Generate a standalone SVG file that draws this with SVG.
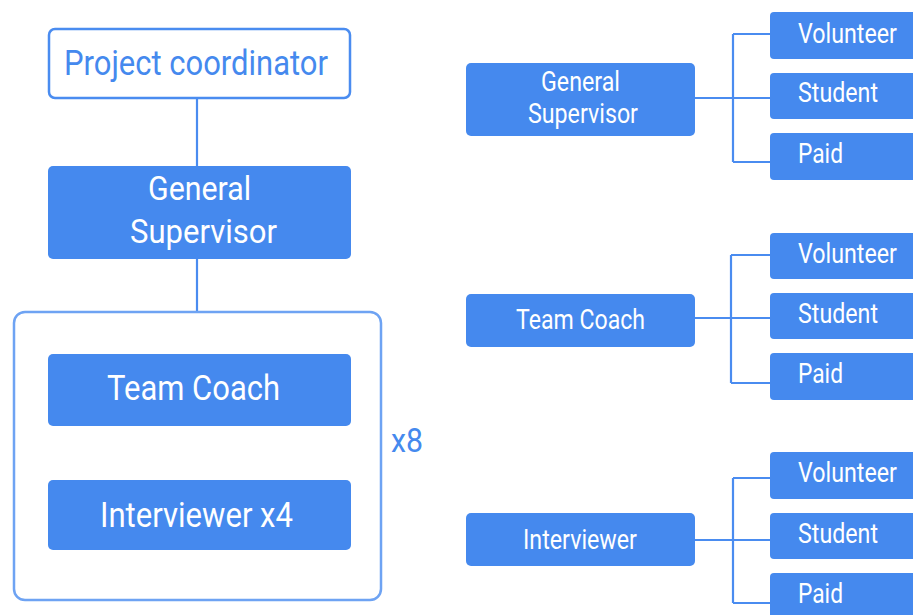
<svg xmlns="http://www.w3.org/2000/svg" width="913" height="615" viewBox="0 0 913 615">
  <style>
    .box { fill: #4589ee; }
    .outline { fill: #ffffff; stroke: #4a8cf0; stroke-width: 2.5; }
    .frame { fill: none; stroke: #6ea3f3; stroke-width: 2.5; }
    .wire { fill: none; stroke: #4a8cf0; stroke-width: 2.2; }
    text { font-family: Roboto, "Liberation Sans", sans-serif; }
    .lbl { fill: #ffffff; }
    .blue { fill: #4589ee; }
  </style>
  <rect width="913" height="615" fill="#ffffff"/>

  <!-- connectors -->
  <g id="connectors">
    <path class="wire" d="M197 98 V166"/>
    <path class="wire" d="M197 259 V312"/>
    <path class="wire" d="M695 98 H770 M733 34 V162 M733 34 H770 M733 162 H770"/>
    <path class="wire" d="M695 318 H770 M731 255 V383 M731 255 H770 M731 383 H770"/>
    <path class="wire" d="M695 540 H770 M733 478 V603 M733 478 H770 M733 603 H770"/>
  </g>

  <!-- left hierarchy -->
  <g id="project-coordinator">
    <rect class="outline" x="49" y="29" width="301" height="69" rx="6"/>
    <text class="blue" x="64" y="75" font-size="35" textLength="264" lengthAdjust="spacingAndGlyphs">Project coordinator</text>
  </g>
  <g id="general-supervisor">
    <rect class="box" x="48" y="166" width="303" height="93" rx="5"/>
    <text class="lbl" x="148" y="200" font-size="33" textLength="103" lengthAdjust="spacingAndGlyphs">General</text>
    <text class="lbl" x="130" y="243" font-size="33" textLength="147" lengthAdjust="spacingAndGlyphs">Supervisor</text>
  </g>
  <g id="team-group">
    <rect class="frame" x="14" y="312" width="367" height="288" rx="11"/>
    <text class="blue" x="391" y="452" font-size="34" textLength="32" lengthAdjust="spacingAndGlyphs">x8</text>
  </g>
  <g id="team-coach">
    <rect class="box" x="48" y="354" width="303" height="72" rx="5"/>
    <text class="lbl" x="107" y="400" font-size="35" textLength="173" lengthAdjust="spacingAndGlyphs">Team Coach</text>
  </g>
  <g id="interviewer-x4">
    <rect class="box" x="48" y="480" width="303" height="70" rx="5"/>
    <text class="lbl" x="100" y="527" font-size="35" textLength="193" lengthAdjust="spacingAndGlyphs">Interviewer x4</text>
  </g>

  <!-- right: General Supervisor options -->
  <g id="gs-role">
    <rect class="box" x="466" y="63" width="229" height="73" rx="5"/>
    <text class="lbl" x="541" y="91" font-size="27" textLength="79" lengthAdjust="spacingAndGlyphs">General</text>
    <text class="lbl" x="528" y="123" font-size="27" textLength="110" lengthAdjust="spacingAndGlyphs">Supervisor</text>
  </g>
  <g id="gs-volunteer">
    <rect class="box" x="770" y="12" width="150" height="47" rx="4"/>
    <text class="lbl" transform="translate(798 43) scale(0.83 1)" font-size="28">Volunteer</text>
  </g>
  <g id="gs-student">
    <rect class="box" x="770" y="73" width="150" height="46" rx="4"/>
    <text class="lbl" x="798" y="102" font-size="28" textLength="80" lengthAdjust="spacingAndGlyphs">Student</text>
  </g>
  <g id="gs-paid">
    <rect class="box" x="770" y="133" width="150" height="47" rx="4"/>
    <text class="lbl" x="798" y="163" font-size="28" textLength="45" lengthAdjust="spacingAndGlyphs">Paid</text>
  </g>

  <!-- right: Team Coach options -->
  <g id="tc-role">
    <rect class="box" x="466" y="294" width="229" height="53" rx="5"/>
    <text class="lbl" x="516" y="329" font-size="27" textLength="129" lengthAdjust="spacingAndGlyphs">Team Coach</text>
  </g>
  <g id="tc-volunteer">
    <rect class="box" x="770" y="233" width="150" height="46" rx="4"/>
    <text class="lbl" transform="translate(798 263) scale(0.83 1)" font-size="28">Volunteer</text>
  </g>
  <g id="tc-student">
    <rect class="box" x="770" y="293" width="150" height="46" rx="4"/>
    <text class="lbl" x="798" y="323" font-size="28" textLength="80" lengthAdjust="spacingAndGlyphs">Student</text>
  </g>
  <g id="tc-paid">
    <rect class="box" x="770" y="353" width="150" height="47" rx="4"/>
    <text class="lbl" x="798" y="383" font-size="28" textLength="45" lengthAdjust="spacingAndGlyphs">Paid</text>
  </g>

  <!-- right: Interviewer options -->
  <g id="iv-role">
    <rect class="box" x="466" y="513" width="229" height="53" rx="5"/>
    <text class="lbl" x="523" y="549" font-size="27" textLength="114" lengthAdjust="spacingAndGlyphs">Interviewer</text>
  </g>
  <g id="iv-volunteer">
    <rect class="box" x="770" y="452" width="150" height="47" rx="4"/>
    <text class="lbl" transform="translate(798 482) scale(0.83 1)" font-size="28">Volunteer</text>
  </g>
  <g id="iv-student">
    <rect class="box" x="770" y="513" width="150" height="46" rx="4"/>
    <text class="lbl" x="798" y="543" font-size="28" textLength="80" lengthAdjust="spacingAndGlyphs">Student</text>
  </g>
  <g id="iv-paid">
    <rect class="box" x="770" y="573" width="150" height="50" rx="4"/>
    <text class="lbl" x="798" y="603" font-size="28" textLength="45" lengthAdjust="spacingAndGlyphs">Paid</text>
  </g>
</svg>
